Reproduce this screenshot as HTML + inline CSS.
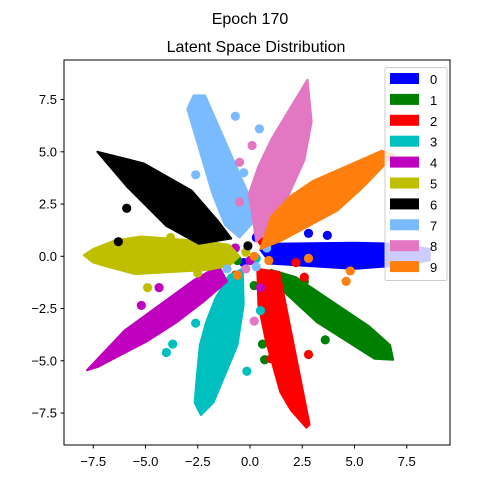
<!DOCTYPE html>
<html><head><meta charset="utf-8"><style>
body{margin:0;background:#fff;}
svg{display:block;font-family:"Liberation Sans","DejaVu Sans",sans-serif;}
</style></head><body>
<svg id="chart" width="500" height="500" viewBox="0 0 500 500" xmlns="http://www.w3.org/2000/svg">
<rect width="500" height="500" fill="#fff"/>
<text x="250" y="24" text-anchor="middle" font-size="16">Epoch 170</text>
<text x="256" y="52" text-anchor="middle" font-size="16">Latent Space Distribution</text>
<g id="points"></g>
<rect x="64" y="60" width="386" height="385" fill="none" stroke="#000" stroke-width="1"/>
<g id="axes"></g>
<g id="legend"></g>
</svg>
<script>
const classLabels = ["0","1","2","3","4","5","6","7","8","9"];
const classColors = ["#0000ff","#008000","#ff0000","#00bfbf","#bf00bf","#bfbf00","#000000","#7abaff","#e377c2","#ff7f0e"];
const xTicks = [-7.5,-5,-2.5,0,2.5,5,7.5];
const yTicks = [-7.5,-5,-2.5,0,2.5,5,7.5];
const tickLabels = ["−7.5","−5.0","−2.5","0.0","2.5","5.0","7.5"];
// dense cluster outline points (x,y pairs)
const c0 = [0.5,0.3, 1.0,0.6, 3.0,0.55, 5.0,0.65, 7.0,0.6, 8.6,0.35, 8.6,-0.2, 7.0,-0.45, 5.0,-0.6, 3.0,-0.45, 1.0,-0.35, 2.0,0.1, 4.0,0.0, 6.0,0.1];
const c1 = [1.0,-0.65, 2.2,-1.0, 3.8,-2.1, 5.7,-3.35, 6.7,-4.25, 6.85,-4.95, 5.95,-4.9, 4.5,-3.95, 3.2,-3.15, 2.5,-2.4, 1.6,-1.45, 0.7,-0.85, 4.0,-3.0];
const c2 = [0.35,-0.6, 1.4,-0.75, 1.5,-1.85, 1.75,-3.4, 2.25,-5.5, 2.45,-7.1, 2.85,-8.05, 2.7,-8.2, 1.95,-7.35, 1.45,-6.5, 1.35,-5.8, 0.75,-4.0, 0.4,-2.3, 1.5,-4.5];
const c3 = [-0.35,-0.6, -1.0,-0.9, -1.65,-2.0, -2.1,-3.15, -2.4,-4.25, -2.55,-5.8, -2.65,-7.0, -2.35,-7.6, -1.75,-7.0, -1.25,-5.8, -0.6,-4.25, -0.3,-2.3, -1.5,-4.5];
const c4 = [-1.5,-0.45, -2.7,-1.15, -3.5,-2.0, -4.75,-2.85, -6.0,-3.55, -7.0,-4.8, -7.8,-5.45, -7.3,-5.3, -6.2,-4.7, -4.9,-4.05, -3.5,-3.15, -2.2,-2.15, -1.1,-1.2, -4.5,-3.4];
const c5 = [-7.95,0.05, -7.5,0.35, -7.5,-0.3, -7.0,0.45, -7.0,-0.45, -6.0,0.5, -6.0,-0.55, -5.5,-0.85, -5.0,0.6, -5.0,-0.7, -4.0,0.6, -4.0,-0.75, -3.0,0.65, -3.0,-0.65, -2.0,0.7, -2.0,-0.65, -1.0,0.55, -1.0,-0.45, -0.5,0.0, -5.2,0.95, -6.5,0.75, -4.5,0.0];
const c6 = [-7.3,5.0, -6.9,4.55, -6.6,4.7, -5.9,3.35, -5.1,4.45, -4.6,3.9, -4.0,1.45, -2.8,3.15, -2.45,0.6, -1.65,0.8, -1.5,1.65, -0.9,0.85, -5.0,2.6, -3.6,3.55, -4.0,3.0];
const c7 = [-2.7,7.7, -3.0,7.05, -2.4,5.4, -2.1,4.1, -1.8,3.0, -2.15,7.7, -1.7,6.15, -1.05,4.6, -0.3,3.0, 0.4,1.9, -0.5,0.9, -1.2,1.5, -1.8,5.0];
const c8 = [2.75,8.45, 1.7,6.7, 1.05,5.65, 0.4,4.3, -0.05,3.0, 2.95,6.45, 2.6,4.6, 1.95,3.3, 1.25,1.6, 0.3,0.7, 1.5,4.5, 2.2,6.0];
const c9 = [6.3,5.05, 5.6,4.7, 4.3,3.95, 3.0,3.6, 1.9,2.85, 1.0,1.9, 6.4,4.7, 6.9,4.85, 5.4,3.3, 4.2,2.2, 2.9,1.55, 1.5,0.75, 0.5,0.35, 4.0,3.0];
// scattered points (x,y pairs)
const o0 = [2.8,1.1, 3.7,1.0, 0.3,0.9, -0.3,-0.3, 0.8,-1.2, 1.8,1.6];
const o1 = [0.7,-4.95, 0.6,-4.2, 3.6,-4.0, 2.6,-1.2, 0.2,-1.4, -0.6,-0.2];
const o2 = [2.8,-4.7, 2.6,-1.0, -1.5,-2.25, 0.6,0.7, -0.7,-0.9, 2.2,-0.3, 1.0,-4.9];
const o3 = [-4.0,-4.6, -3.7,-4.2, -2.6,-3.2, -0.15,-5.5, 0.3,-0.1, -1.3,-0.2, 0.5,-2.6];
const o4 = [-5.2,-2.35, -4.35,-1.5, 0.0,-0.2, -0.7,0.4, 0.5,-1.5];
const o5 = [-3.8,0.9, -2.5,-0.8, -1.3,1.0, -0.2,0.2, -4.9,-1.5];
const o6 = [-6.3,0.7, -5.9,2.3, -3.0,1.1, -0.1,0.5];
const o7 = [-2.6,3.9, -0.7,6.7, 0.45,6.1, -0.3,4.0, 0.3,-0.5, -1.1,-0.6, 0.8,0.4];
const o8 = [0.1,5.3, -0.5,4.5, -0.5,2.6, -0.2,-0.6, 0.2,-3.1, 1.4,3.6];
const o9 = [4.6,-1.2, 4.8,-0.7, 0.2,0.0, -0.6,-0.9, 2.8,-0.1, 0.9,-0.2];
const classPoints = [c0,c1,c2,c3,c4,c5,c6,c7,c8,c9];
const classOutliers = [o0,o1,o2,o3,o4,o5,o6,o7,o8,o9];

const NS = "http://www.w3.org/2000/svg";
const X0 = 250, Y0 = 256.3, K = 20.9, R = 4.6;
function sx(v){ return X0 + v*K; }
function sy(v){ return Y0 - v*K; }

function hull(pts){
  const p = pts.slice().sort((a,b)=>a[0]-b[0]||a[1]-b[1]);
  if (p.length < 3) return p;
  const cr=(o,a,b)=>(a[0]-o[0])*(b[1]-o[1])-(a[1]-o[1])*(b[0]-o[0]);
  const lo=[], up=[];
  for (const q of p){ while(lo.length>=2&&cr(lo[lo.length-2],lo[lo.length-1],q)<=0) lo.pop(); lo.push(q); }
  for (let i=p.length-1;i>=0;i--){ const q=p[i]; while(up.length>=2&&cr(up[up.length-2],up[up.length-1],q)<=0) up.pop(); up.push(q); }
  up.pop(); lo.pop();
  return lo.concat(up);
}

const pg = document.getElementById('points');
classPoints.forEach((arr, ci) => {
  const g = document.createElementNS(NS,'g');
  
  
  const px = [];
  for (let i = 0; i < arr.length; i += 2) px.push([sx(arr[i]), sy(arr[i+1])]);
  const h = hull(px);
  const poly = document.createElementNS(NS,'polygon');
  
  
  poly.setAttribute('points', h.map(q=>q[0]+','+q[1]).join(' '));
  poly.setAttribute('fill', classColors[ci]);
  poly.setAttribute('stroke', classColors[ci]);
  poly.setAttribute('stroke-width', 2);
  poly.setAttribute('stroke-linejoin', 'round');
  g.appendChild(poly);
  const out = classOutliers[ci];
  for (let i = 0; i < out.length; i += 2) {
    const c = document.createElementNS(NS,'circle');
    
    
    c.setAttribute('cx', sx(out[i]));
    c.setAttribute('cy', sy(out[i+1]));
    c.setAttribute('r', R);
    c.setAttribute('fill', classColors[ci]);
    g.appendChild(c);
  }
  pg.appendChild(g);
});

const ax = document.getElementById('axes');
xTicks.forEach((v, i) => {
  const t = document.createElementNS(NS,'line');
  
  
  t.setAttribute('x1', sx(v)); t.setAttribute('x2', sx(v));
  t.setAttribute('y1', 445); t.setAttribute('y2', 448.5);
  t.setAttribute('stroke', '#000');
  ax.appendChild(t);
  const l = document.createElementNS(NS,'text');
  
  
  l.setAttribute('x', sx(v)); l.setAttribute('y', 466);
  l.setAttribute('text-anchor', 'middle'); l.setAttribute('font-size', '13');
  l.textContent = tickLabels[i];
  ax.appendChild(l);
});
yTicks.forEach((v, i) => {
  const t = document.createElementNS(NS,'line');
  
  
  t.setAttribute('x1', 60.5); t.setAttribute('x2', 64);
  t.setAttribute('y1', sy(v)); t.setAttribute('y2', sy(v));
  t.setAttribute('stroke', '#000');
  ax.appendChild(t);
  const l = document.createElementNS(NS,'text');
  
  
  l.setAttribute('x', 57); l.setAttribute('y', sy(v) + 4.5);
  l.setAttribute('text-anchor', 'end'); l.setAttribute('font-size', '13');
  l.textContent = tickLabels[i];
  ax.appendChild(l);
});

const lg = document.getElementById('legend');
const box = document.createElementNS(NS,'rect');


box.setAttribute('x', 385); box.setAttribute('y', 67.5);
box.setAttribute('width', 62); box.setAttribute('height', 213);
box.setAttribute('rx', 2); box.setAttribute('fill', 'rgba(255,255,255,0.8)');
box.setAttribute('stroke', '#ccc');
lg.appendChild(box);
classLabels.forEach((lab, i) => {
  const y = 79 + i*20.9;
  const p = document.createElementNS(NS,'rect');
  
  
  p.setAttribute('x', 390); p.setAttribute('y', y - 6);
  p.setAttribute('width', 29); p.setAttribute('height', 11);
  p.setAttribute('fill', classColors[i]);
  lg.appendChild(p);
  const t = document.createElementNS(NS,'text');
  
  
  t.setAttribute('x', 430); t.setAttribute('y', y + 5);
  t.setAttribute('font-size', '13');
  t.textContent = lab;
  lg.appendChild(t);
});
</script>
</body></html>
